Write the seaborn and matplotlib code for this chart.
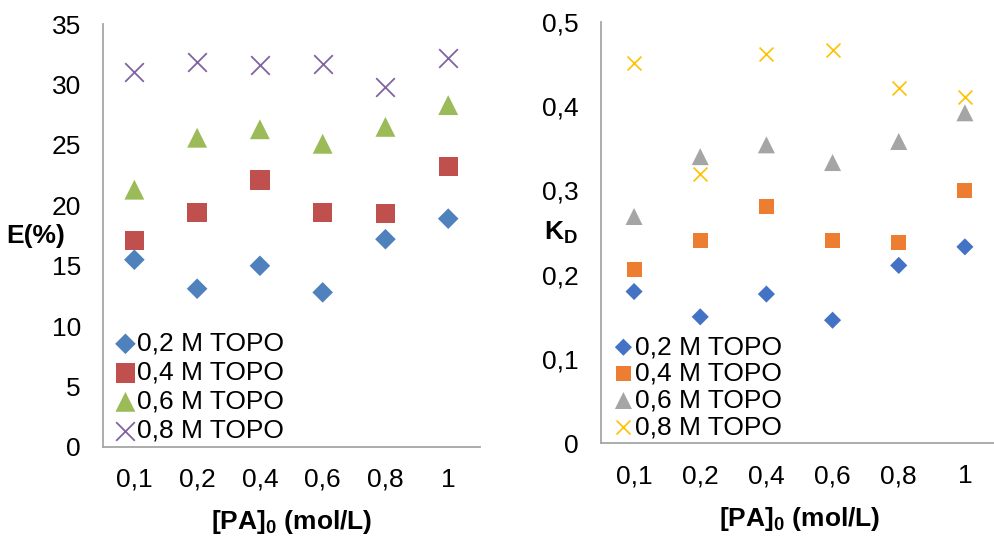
import matplotlib
matplotlib.use("Agg")
import matplotlib.pyplot as plt
import seaborn as sns

categories = ["0,1", "0,2", "0,4", "0,6", "0,8", "1"]
series_labels = ["0,2 M TOPO", "0,4 M TOPO", "0,6 M TOPO", "0,8 M TOPO"]

E_02 = [15.5, 13.1, 15.0, 12.8, 17.2, 18.9]
E_04 = [17.1, 19.4, 22.1, 19.4, 19.35, 23.2]
E_06 = [21.3, 25.6, 26.3, 25.1, 26.5, 28.3]
E_08 = [31.0, 31.9, 31.65, 31.7, 29.8, 32.2]

KD_02 = [0.180, 0.150, 0.177, 0.146, 0.211, 0.233]
KD_04 = [0.206, 0.240, 0.281, 0.240, 0.238, 0.300]
KD_06 = [0.269, 0.340, 0.354, 0.333, 0.358, 0.392]
KD_08 = [0.451, 0.320, 0.462, 0.467, 0.421, 0.411]

E_ticks = [0, 5, 10, 15, 20, 25, 30, 35]
KD_ticks = [0, 0.1, 0.2, 0.3, 0.4, 0.5]
KD_ticklabels = ["0", "0,1", "0,2", "0,3", "0,4", "0,5"]

sns.set_theme(style="white")
plt.rcParams["font.family"] = ["Liberation Sans", "DejaVu Sans"]
plt.rcParams["text.color"] = "black"
plt.rcParams["axes.labelcolor"] = "black"
plt.rcParams["mathtext.fontset"] = "custom"
plt.rcParams["mathtext.rm"] = "Liberation Sans"
plt.rcParams["mathtext.bf"] = "Liberation Sans:bold"

FS = 19

fig = plt.figure(figsize=(9.95, 5.37), dpi=100)
ax1 = fig.add_axes([0.1035, 0.1676, 0.3785, 0.7874])
ax2 = fig.add_axes([0.604, 0.1745, 0.399, 0.785])

left_colors = ["#4F81BD", "#C0504D", "#9BBB59", "#8064A2"]
right_colors = ["#4472C4", "#ED7D31", "#A5A5A5", "#FFC000"]
markers = ["D", "s", "^", "x"]

def draw(ax, data, colors, sizes, xlw, lspace):
    for vals, col, mk, lab, s in zip(data, colors, markers, series_labels, sizes):
        if mk == "x":
            sns.scatterplot(x=categories, y=vals, ax=ax, marker=mk, color=col,
                            s=s, linewidth=xlw, label=lab)
        else:
            sns.scatterplot(x=categories, y=vals, ax=ax, marker=mk, color=col,
                            s=s, linewidth=0, edgecolor="none", label=lab)
    ax.set_xlim(-0.5, 5.5)
    for sp in ["top", "right"]:
        ax.spines[sp].set_visible(False)
    for sp in ["left", "bottom"]:
        ax.spines[sp].set_color("#A6A6A6")
        ax.spines[sp].set_linewidth(1.3)
    ax.tick_params(axis="both", labelsize=FS, length=0, colors="black")
    ax.tick_params(axis="y", pad=16)
    ax.tick_params(axis="x", pad=15)
    leg = ax.legend(loc="lower left", bbox_to_anchor=(0.0, -0.015), frameon=False,
                    fontsize=FS, handletextpad=0.0, labelspacing=lspace,
                    handlelength=0.9, borderpad=0.2, borderaxespad=0.2)
    for t in leg.get_texts():
        t.set_color("black")

draw(ax1, [E_02, E_04, E_06, E_08], left_colors, [110, 195, 205, 180], 1.3, 0.19)
ax1.set_ylim(0, 35)
ax1.set_yticks(E_ticks)
ax1.set_ylabel("E(%)", fontsize=FS, fontweight="bold", rotation=0,
               ha="center", va="center", color="black")
ax1.yaxis.set_label_coords(-0.178, 0.50)
ax1.set_xlabel(r"[PA]$_\mathbf{0}$ (mol/L)", fontsize=FS, fontweight="bold",
               labelpad=12, color="black")

draw(ax2, [KD_02, KD_04, KD_06, KD_08], right_colors, [76, 118, 150, 100], 1.2, 0.1)
ax2.set_ylim(0, 0.5)
ax2.set_yticks(KD_ticks)
ax2.set_yticklabels(KD_ticklabels)
ax2.set_ylabel(r"K$_\mathbf{D}$", fontsize=FS, fontweight="bold", rotation=0,
               ha="center", va="center", color="black")
ax2.yaxis.set_label_coords(-0.10, 0.50)
ax2.set_xlabel(r"[PA]$_\mathbf{0}$ (mol/L)", fontsize=FS, fontweight="bold",
               labelpad=12, color="black")

fig.savefig("out.png", dpi=100)
